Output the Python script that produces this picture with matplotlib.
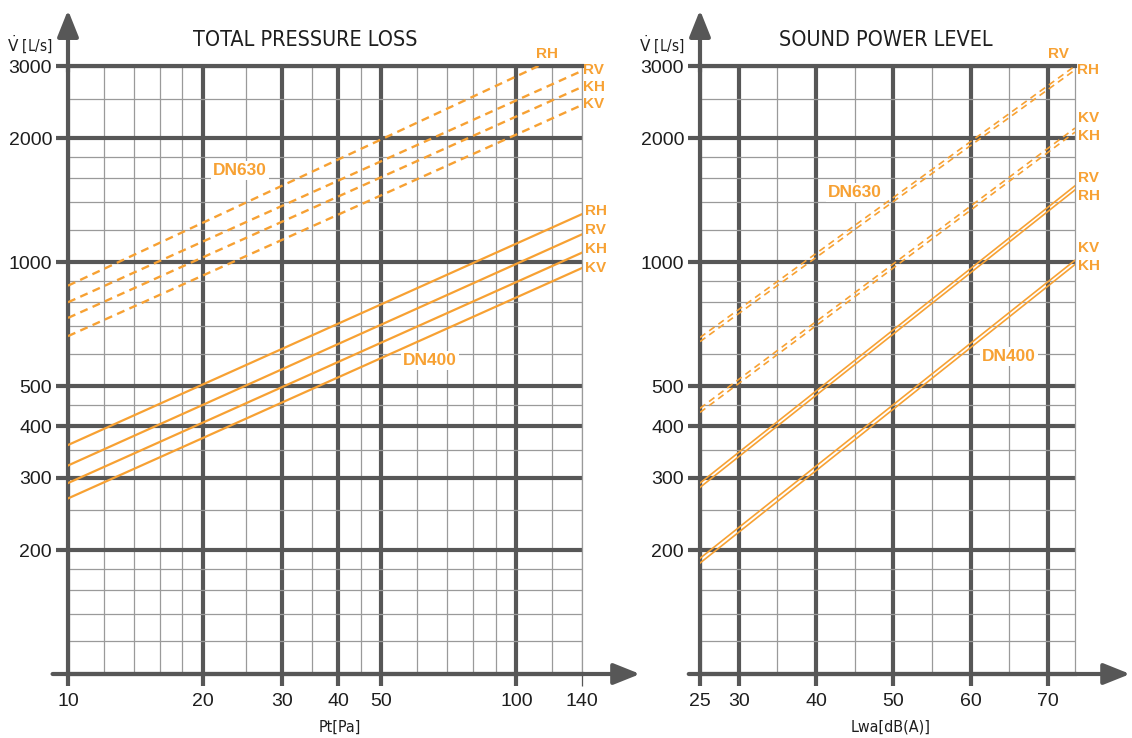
import matplotlib
matplotlib.use("Agg")
import matplotlib.pyplot as plt
from matplotlib.ticker import NullFormatter
from matplotlib.patches import ArrowStyle

ORANGE = "#f7a133"
DARK = "#575757"
THIN = "#9a9a9a"
TEXT = "#1e1e1e"
NARROW = ["DejaVu Sans"]
SANS = ["Liberation Sans", "DejaVu Sans"]

# shared y axis, V [L/s]
v_major = [200, 300, 400, 500, 1000, 2000, 3000]
v_minor = [120, 140, 160, 180, 250, 350, 450, 600, 700, 800, 900,
           1200, 1400, 1600, 1800, 2500]
v_lim = [100, 3000]

# total pressure loss, Pt [Pa]
pt_major = [10, 20, 30, 40, 50, 100, 140]
pt_minor = [12, 14, 16, 18, 25, 35, 45, 60, 70, 80, 90, 120]
pt_lim = [10, 140]
series = ["RH", "RV", "KH", "KV"]
dn630_pt_x = [[10, 112], [10, 140], [10, 140], [10, 140]]
dn630_pt_v = [[878, 3000], [800, 2920], [733, 2668], [662, 2412]]
dn400_pt_x = [[10, 140], [10, 140], [10, 140], [10, 140]]
dn400_pt_v = [[360, 1310], [321, 1170], [291, 1056], [267, 969]]

# sound power level, Lwa [dB(A)]
lw_major = [25, 30, 40, 50, 60, 70]
lw_minor = [35, 45, 55, 65]
lw_lim = [25, 73.5]
lw_x = [25, 73.5]
dn630_lw_names = ["RV", "RH", "KV", "KH"]
dn630_lw_v = [[657, 3000], [642, 2935], [442, 2120], [432, 2072]]
dn400_lw_names = ["RV", "RH", "KV", "KH"]
dn400_lw_v = [[291, 1535], [284, 1500], [191, 1012], [186, 988]]

fig = plt.figure(figsize=(11.32, 7.38), dpi=100)
ax1 = fig.add_axes([68 / 1132, 64 / 738, 514 / 1132, 608 / 738])
ax2 = fig.add_axes([700 / 1132, 64 / 738, 375 / 1132, 608 / 738])


def setup(ax, xmajor, xminor, xlim, logx, title, title_x, xlabel, xlabel_x,
          ylabel_x, arrow_x):
    if logx:
        ax.set_xscale("log")
    ax.set_yscale("log")
    ax.set_xlim(xlim)
    ax.set_ylim(v_lim)
    ax.set_xticks(xmajor, [str(t) for t in xmajor])
    ax.set_xticks(xminor, minor=True)
    ax.set_yticks(v_major, [str(t) for t in v_major])
    ax.set_yticks(v_minor, minor=True)
    ax.xaxis.set_minor_formatter(NullFormatter())
    ax.yaxis.set_minor_formatter(NullFormatter())
    ax.set_axisbelow(True)
    ax.grid(which="major", color=DARK, lw=3)
    ax.grid(which="minor", color=THIN, lw=0.9)
    ax.tick_params(which="major", length=8.5, width=3, color=DARK,
                   labelcolor=TEXT, labelsize=14)
    ax.tick_params(axis="x", which="major", pad=5)
    ax.tick_params(axis="y", which="major", pad=3)
    ax.tick_params(which="minor", length=0)
    for lab in ax.get_xticklabels() + ax.get_yticklabels():
        lab.set_family(SANS)
    for side in ["left", "bottom", "top"]:
        ax.spines[side].set_color(DARK)
        ax.spines[side].set_linewidth(3)
    ax.spines["right"].set_color(THIN)
    ax.spines["right"].set_linewidth(0.9)

    style = ArrowStyle("-|>", head_length=0.4, head_width=0.16)
    ax.annotate("", xy=(0, 1.092), xytext=(0, 0.99), xycoords="axes fraction",
                arrowprops=dict(arrowstyle=style, mutation_scale=40, color=DARK,
                                lw=3, shrinkA=0, shrinkB=0))
    ax.annotate("", xy=(arrow_x, 0), xytext=(-0.03, 0), xycoords="axes fraction",
                arrowprops=dict(arrowstyle=style, mutation_scale=40, color=DARK,
                                lw=3, shrinkA=0, shrinkB=0))

    ax.text(title_x, 1.043, title, transform=ax.transAxes, ha="center",
            va="center", fontsize=15.5, family=NARROW, fontstretch="condensed",
            color=TEXT)
    ax.text(xlabel_x, -0.087, xlabel, transform=ax.transAxes, ha="center",
            va="center", fontsize=11.5, family=NARROW, fontstretch="condensed",
            color=TEXT)
    ax.text(ylabel_x, 1.035, r"$\dot{\mathrm{V}}$ [L/s]", transform=ax.transAxes,
            ha="right", va="center", fontsize=11, family=NARROW,
            fontstretch="condensed", color=TEXT)


setup(ax1, pt_major, pt_minor, pt_lim, True, "TOTAL PRESSURE LOSS", 0.461,
      "Pt[Pa]", 0.529, -0.029, 1.113)
setup(ax2, lw_major, lw_minor, lw_lim, False, "SOUND POWER LEVEL", 0.496,
      "Lwa[dB(A)]", 0.507, -0.04, 1.147)

# 140 Pa is the edge of the chart: thin line
t140 = ax1.xaxis.get_major_ticks()[-1]
t140.gridline.set_linewidth(0.9)
t140.gridline.set_color(THIN)
t140.tick1line.set_markeredgewidth(0.9)
t140.tick1line.set_color(THIN)

# total pressure loss lines
for xs, vs in zip(dn630_pt_x, dn630_pt_v):
    ax1.plot(xs, vs, color=ORANGE, lw=1.7, dashes=(3.4, 2.3), zorder=3)
for xs, vs in zip(dn400_pt_x, dn400_pt_v):
    ax1.plot(xs, vs, color=ORANGE, lw=1.6, zorder=3)

lab = dict(color=ORANGE, fontsize=11, fontweight="bold", family=SANS, va="center")
ax1.text(117, 3200, "RH", ha="center", **lab)
for name, v in zip(series[1:], [2930, 2665, 2422]):
    ax1.text(141, v, name, ha="left", **lab)
for name, v in zip(series, [1331, 1196, 1076, 967]):
    ax1.text(142, v, name, ha="left", **lab)

box = dict(facecolor="white", edgecolor="none", pad=1.5)
dn = dict(color=ORANGE, fontsize=12.5, fontweight="bold", family=SANS,
          ha="center", va="center", bbox=box, zorder=4)
ax1.text(24.2, 1674, "DN630", **dn)
ax1.text(64, 578, "DN400", **dn)

# sound power level lines
for vs in dn630_lw_v:
    ax2.plot(lw_x, vs, color=ORANGE, lw=1.2, dashes=(4.0, 2.8), zorder=3)
for vs in dn400_lw_v:
    ax2.plot(lw_x, vs, color=ORANGE, lw=1.2, zorder=3)

ax2.text(71.4, 3200, "RV", ha="center", **lab)
ax2.text(73.7, 2930, "RH", ha="left", **lab)
for name, v in zip(dn630_lw_names[2:], [2240, 2026]):
    ax2.text(73.9, v, name, ha="left", **lab)
for name, v in zip(dn400_lw_names, [1601, 1447, 1081, 978]):
    ax2.text(73.9, v, name, ha="left", **lab)
ax2.text(45, 1480, "DN630", **dn)
ax2.text(65, 590, "DN400", **dn)

fig.savefig("out.png", dpi=100)
